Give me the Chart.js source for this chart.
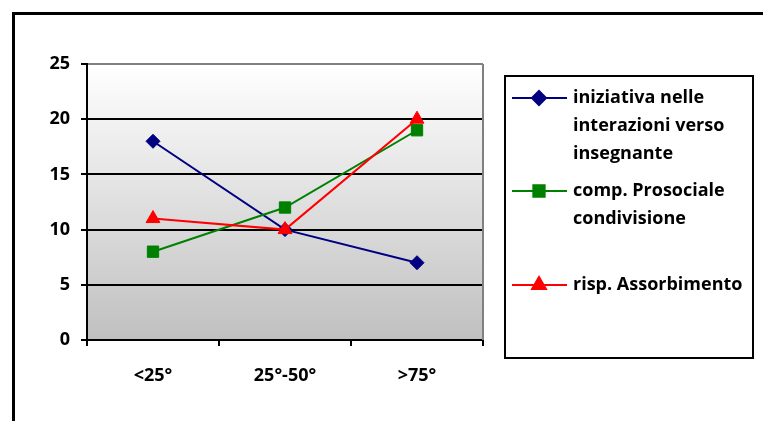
<!DOCTYPE html>
<html>
<head>
<meta charset="utf-8">
<script src="https://cdn.jsdelivr.net/npm/chart.js@4/dist/chart.umd.min.js"></script>
<style>
  html, body { margin: 0; padding: 0; background: #fff; }
  #wrap { width: 763px; height: 421px; position: relative; }
</style>
</head>
<body>
<div id="wrap"><canvas id="c" width="763" height="421"></canvas></div>
<script>
const categories = ['<25°', '25°-50°', '>75°'];
const iniziativa = [18, 10, 7];
const prosociale = [8, 12, 19];
const assorbimento = [11, 10, 20];
const yTicks = [0, 5, 10, 15, 20, 25];
const legendLines = [
  ['iniziativa nelle', 'interazioni verso', 'insegnante'],
  ['comp. Prosociale', 'condivisione'],
  ['risp. Assorbimento']
];

const FONT = '"Open Sans", "Liberation Sans", sans-serif';
const FSIZE = 18;

// frame around the whole chart, plot background gradient, right plot border
const framePlugin = {
  id: 'frame',
  beforeDraw(chart) {
    const ctx = chart.ctx;
    const a = chart.chartArea;
    ctx.save();
    ctx.fillStyle = '#fff';
    ctx.fillRect(0, 0, chart.width, chart.height);
    const g = ctx.createLinearGradient(0, a.top, 0, a.bottom);
    g.addColorStop(0, '#ffffff');
    g.addColorStop(1, '#c0c0c0');
    ctx.fillStyle = g;
    ctx.fillRect(a.left, a.top, a.right - a.left, a.bottom - a.top);
    ctx.restore();
  },
  afterDraw(chart) {
    const ctx = chart.ctx;
    const a = chart.chartArea;
    ctx.save();
    ctx.strokeStyle = '#808080';
    ctx.lineWidth = 2;
    ctx.beginPath();
    ctx.moveTo(a.right, a.top);
    ctx.lineTo(a.right, a.bottom);
    ctx.stroke();
    ctx.strokeStyle = '#000';
    ctx.lineWidth = 3;
    ctx.strokeRect(13.5, 13.5, chart.width + 20, chart.height + 20);
    ctx.restore();
  }
};

// boxed legend with wrapped labels
const boxLegend = {
  id: 'boxLegend',
  afterDraw(chart) {
    const ctx = chart.ctx;
    const box = { x: 505, y: 76, w: 248, h: 282 };
    const rowY = [[98, 126, 154], [191, 219], [285]];
    ctx.save();
    ctx.strokeStyle = '#000';
    ctx.lineWidth = 2;
    ctx.strokeRect(box.x, box.y, box.w, box.h);
    chart.data.datasets.forEach((ds, i) => {
      const y = rowY[i][0];
      ctx.strokeStyle = ds.borderColor;
      ctx.lineWidth = 2;
      ctx.beginPath();
      ctx.moveTo(512, y);
      ctx.lineTo(567, y);
      ctx.stroke();
      Chart.helpers.drawPoint(ctx, {
        pointStyle: ds.pointStyle,
        radius: ds.pointRadius,
        borderWidth: 1
      }, 539, y);
      ctx.fillStyle = ds.pointBackgroundColor;
      ctx.strokeStyle = ds.pointBorderColor;
      ctx.fill();
      ctx.fillStyle = '#000';
      ctx.font = 'bold ' + FSIZE + 'px ' + FONT;
      ctx.textBaseline = 'middle';
      ctx.textAlign = 'left';
      legendLines[i].forEach((t, k) => ctx.fillText(t, 573, rowY[i][k]));
    });
    ctx.restore();
  }
};

const mk = (label, data, color, style, r, order) => ({
  label, data, order,
  borderColor: color,
  backgroundColor: color,
  pointBackgroundColor: color,
  pointBorderColor: color,
  borderWidth: 2,
  pointStyle: style,
  pointRadius: r,
  pointHoverRadius: r,
  pointBorderWidth: 1,
  tension: 0
});

new Chart(document.getElementById('c'), {
  type: 'line',
  data: {
    labels: categories,
    datasets: [
      mk(legendLines[0].join(' '), iniziativa, '#000080', 'rectRot', 7, 3),
      mk(legendLines[1].join(' '), prosociale, '#008000', 'rect', 8, 2),
      mk(legendLines[2].join(' '), assorbimento, '#ff0000', 'triangle', 8, 1)
    ]
  },
  options: {
    responsive: false,
    animation: false,
    layout: { padding: { left: 0, top: 64, right: 280, bottom: 0 } },
    plugins: { legend: { display: false }, tooltip: { enabled: false } },
    scales: {
      x: {
        offset: true,
        grid: { display: true, drawOnChartArea: false, offset: true, tickLength: 6, color: '#000', lineWidth: 2 },
        border: { display: true, color: '#000', width: 2 },
        ticks: { color: '#000', padding: 19, font: { family: FONT, size: FSIZE, weight: 'bold' }, maxRotation: 0 },
        afterFit(s) { s.height = 81; }
      },
      y: {
        min: 0, max: 25,
        afterBuildTicks(s) { s.ticks = yTicks.map(v => ({ value: v })); },
        grid: {
          color: c => (c.tick && c.tick.value === 25 ? '#808080' : '#000'),
          lineWidth: 2,
          tickLength: 6,
          tickColor: '#000'
        },
        border: { display: true, color: '#000', width: 2 },
        ticks: { color: '#000', padding: 11, font: { family: FONT, size: FSIZE, weight: 'bold' } },
        afterFit(s) { s.width = 87; }
      }
    }
  },
  plugins: [framePlugin, boxLegend]
});
</script>
</body>
</html>
